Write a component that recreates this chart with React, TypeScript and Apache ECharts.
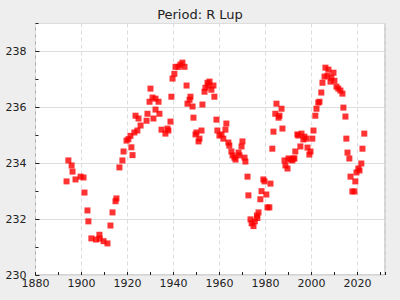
import React, { useEffect, useRef } from "react";
import * as echarts from "echarts";

const titleText = "Period: R Lup";

const years: number[] = [
  1893.5, 1894.3, 1895.7, 1896.1, 1897.4, 1899.6, 1900.9, 1901.3, 1902.6, 1903.0,
  1904.3, 1906.3, 1907.8, 1907.9, 1909.6, 1911.3, 1912.6, 1913.5, 1914.8, 1915.2,
  1916.5, 1917.8, 1918.3, 1919.6, 1920.4, 1921.3, 1921.7, 1922.2, 1923.0, 1923.5,
  1924.3, 1924.8, 1925.7, 1928.3, 1928.7, 1929.6, 1930.0, 1930.9, 1931.3, 1932.2,
  1932.2, 1933.5, 1933.9, 1934.8, 1936.5, 1937.4, 1937.8, 1938.7, 1939.1, 1939.6,
  1940.4, 1940.9, 1942.2, 1943.0, 1943.9, 1944.8, 1945.7, 1946.1, 1947.0, 1947.4,
  1948.3, 1948.7, 1949.6, 1950.0, 1950.9, 1951.3, 1952.2, 1952.6, 1953.5, 1953.9,
  1954.8, 1955.2, 1955.7, 1956.5, 1957.4, 1957.8, 1958.7, 1959.1, 1960.0, 1960.9,
  1961.7, 1962.6, 1963.0, 1963.9, 1964.3, 1965.2, 1965.7, 1966.5, 1967.0, 1968.3,
  1968.7, 1969.6, 1970.0, 1970.9, 1971.3, 1972.2, 1972.6, 1973.5, 1974.0, 1974.8,
  1975.4, 1976.3, 1976.5, 1977.0, 1977.8, 1978.3, 1979.1, 1979.6, 1980.4, 1980.9,
  1981.7, 1982.2, 1983.0, 1983.5, 1984.3, 1984.8, 1985.7, 1986.1, 1987.0, 1987.4,
  1988.3, 1988.7, 1989.6, 1990.0, 1990.9, 1991.7, 1992.2, 1992.6, 1993.0, 1993.9,
  1994.3, 1995.2, 1995.7, 1996.5, 1997.0, 1997.8, 1998.3, 1999.1, 1999.6, 2000.4,
  2000.9, 2001.7, 2002.2, 2003.0, 2003.5, 2004.3, 2004.8, 2005.7, 2006.1, 2007.0,
  2007.4, 2008.3, 2008.7, 2009.6, 2010.0, 2010.9, 2011.7, 2012.6, 2013.5, 2013.9,
  2014.8, 2015.2, 2015.7, 2016.5, 2017.0, 2017.8, 2018.7, 2019.1, 2019.6, 2020.4,
  2020.9, 2021.7, 2022.2, 2023.0,
];

const periods: number[] = [
  233.35, 234.10, 233.92, 233.70, 233.42, 233.52, 233.49, 232.95, 232.31, 231.92,
  231.31, 231.27, 231.44, 231.30, 231.21, 231.13, 231.77, 232.24, 232.64, 232.74,
  233.85, 234.10, 234.42, 234.81, 234.86, 234.98, 234.57, 234.29, 235.10, 235.70,
  235.17, 235.60, 235.35, 235.52, 235.77, 236.20, 236.67, 236.35, 235.60, 236.31,
  235.92, 236.20, 235.77, 235.20, 235.06, 235.24, 235.17, 235.49, 236.38, 237.03,
  237.20, 237.45, 237.45, 237.53, 237.60, 237.45, 236.78, 236.13, 236.27, 236.38,
  236.03, 235.63, 235.03, 235.10, 234.78, 234.88, 235.17, 236.10, 236.56, 236.70,
  236.88, 236.78, 236.92, 236.63, 236.78, 236.38, 235.56, 235.17, 234.99, 235.03,
  234.88, 235.20, 235.42, 234.74, 234.63, 234.42, 234.28, 234.20, 234.13, 234.38,
  234.28, 234.60, 234.78, 234.20, 234.06, 233.52, 232.85, 231.99, 231.85, 231.75,
  231.92, 232.13, 232.04, 232.24, 232.71, 233.00, 233.42, 233.35, 232.88, 232.42,
  232.42, 233.27, 234.52, 235.13, 235.77, 236.13, 235.63, 235.70, 235.95, 235.24,
  234.10, 233.92, 233.81, 234.17, 234.13, 234.10, 234.17, 234.17, 234.42, 235.03,
  234.99, 234.60, 235.06, 234.85, 234.95, 234.88, 234.56, 234.31, 234.42, 234.88,
  235.17, 235.70, 235.95, 236.17, 236.20, 236.53, 236.88, 237.10, 237.42, 237.13,
  237.35, 236.92, 237.06, 237.24, 236.95, 236.74, 236.67, 236.60, 236.49, 235.99,
  235.67, 234.88, 234.38, 234.17, 233.52, 232.99, 232.99, 233.35, 233.67, 233.81,
  233.74, 233.99, 234.52, 235.06,
];

const xMin = 1880;
const xMax = 2032;
const yMin = 230;
const yMax = 239;

export default function App() {
  const ref = useRef<HTMLDivElement>(null);
  useEffect(() => {
    if (!ref.current) return;
    document.body.style.margin = "0";
    const chart = echarts.init(ref.current, null, { renderer: "svg" });
    const font = "DejaVu Sans";
    const data = years.map((y, i) => [y, periods[i]]);
    chart.setOption({
      animation: false,
      backgroundColor: "#eeeeee",
      textStyle: { fontFamily: font },
      title: {
        text: titleText,
        left: "center",
        top: 3,
        textStyle: { fontFamily: font, fontSize: 13, fontWeight: "normal", color: "#222" },
      },
      grid: {
        left: 35.5,
        right: 15,
        top: 23.5,
        bottom: 25,
        show: true,
        backgroundColor: "#ffffff",
        borderColor: "#aaaaaa",
        borderWidth: 1,
      },
      xAxis: [
        {
          type: "value",
          min: xMin,
          max: xMax,
          interval: 20,
          axisLine: { show: false },
          axisTick: { show: false },
          axisLabel: {
            color: "#222",
            fontSize: 11,
            fontFamily: font,
            margin: 3,
            showMaxLabel: false,
            formatter: (v: number) => String(v),
          },
          splitLine: { show: true, lineStyle: { color: "#dddddd", type: [4, 3], width: 1 } },
        },
        {
          type: "value",
          min: xMin,
          max: xMax,
          interval: 10,
          position: "bottom",
          axisLine: { show: false },
          axisTick: { show: true, inside: true, length: 3, lineStyle: { color: "#222" } },
          axisLabel: { show: false },
          splitLine: { show: false },
        },
      ],
      yAxis: [
        {
          type: "value",
          min: yMin,
          max: yMax,
          interval: 2,
          axisLine: { show: false },
          axisTick: { show: true, inside: true, length: 4, lineStyle: { color: "#222" } },
          axisLabel: {
            color: "#222",
            fontSize: 11,
            fontFamily: font,
            margin: 9,
            showMaxLabel: false,
            formatter: (v: number) => String(v),
          },
          splitLine: { show: true, lineStyle: { color: "#dddddd", width: 1 } },
        },
        {
          type: "value",
          min: yMin,
          max: yMax,
          interval: 1,
          position: "left",
          axisLine: { show: false },
          axisTick: { show: true, inside: true, length: 3, lineStyle: { color: "#222" } },
          axisLabel: { show: false },
          splitLine: { show: false },
        },
      ],
      series: [
        {
          type: "scatter",
          xAxisIndex: 0,
          yAxisIndex: 0,
          symbol: "rect",
          symbolSize: 6,
          itemStyle: { color: "#ff0000" },
          data,
        },
      ],
    });
    return () => chart.dispose();
  }, []);
  return <div ref={ref} style={{ width: 400, height: 300 }} />;
}
